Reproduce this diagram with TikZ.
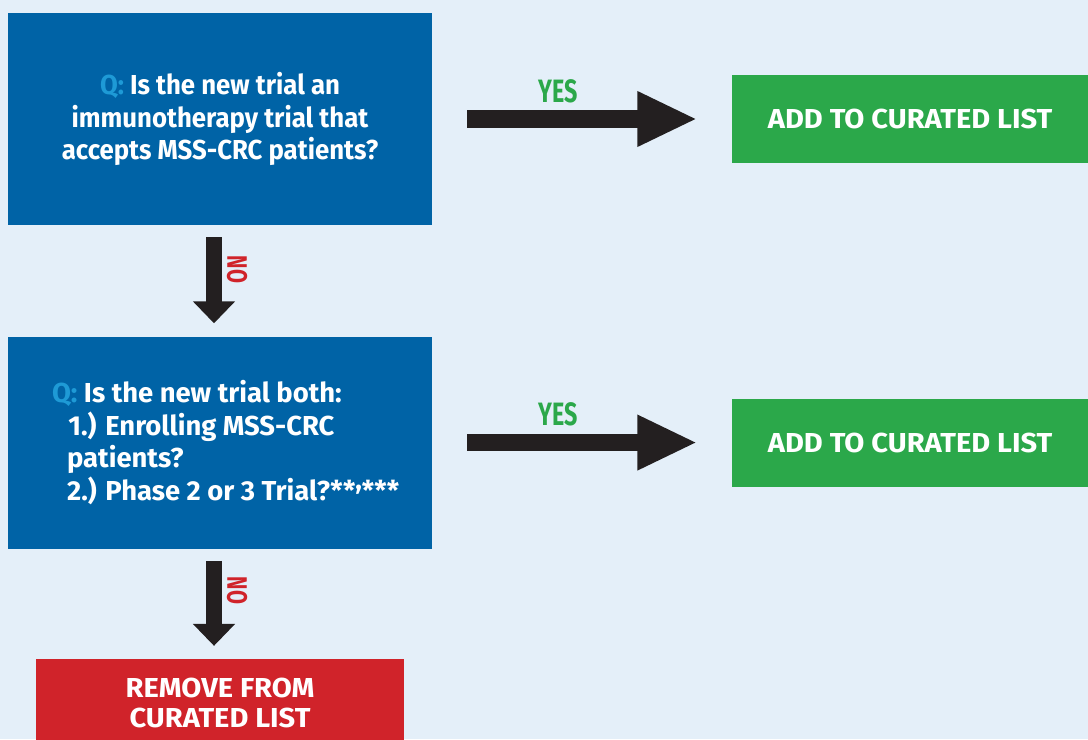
\documentclass[tikz,border=0pt]{standalone}
\usepackage{fontspec}
\setmainfont{Fira Sans}
\newfontfamily\boxfont{Fira Sans}[FakeStretch=0.94]
\newfontfamily\listfont{Fira Sans}[FakeStretch=1.0]
\newfontfamily\capsfont{Fira Sans}[FakeStretch=1.06]
\newfontfamily\tagfont{Fira Sans}[FakeStretch=0.72]
\usetikzlibrary{arrows.meta,positioning}
\definecolor{bgblue}{HTML}{E4EFF9}
\definecolor{qblue}{HTML}{0063A6}
\definecolor{qcyan}{HTML}{1E9AD6}
\definecolor{addgreen}{HTML}{2BA84A}
\definecolor{rmred}{HTML}{D0232A}
\definecolor{arrowblack}{HTML}{231F20}
\tikzset{
  question/.style={fill=qblue, text=white, inner sep=0pt,
    minimum width=10.6cm, minimum height=5.3cm,
    font=\boxfont\bfseries\fontsize{19.5}{23.4}\selectfont},
  addbox/.style={fill=addgreen, text=white, inner sep=0pt,
    minimum width=8.925cm, minimum height=2.2cm,
    font=\capsfont\bfseries\fontsize{19.5}{23.4}\selectfont},
  removebox/.style={fill=rmred, text=white, inner sep=0pt, align=center,
    minimum width=9.2cm, minimum height=2.2cm,
    font=\capsfont\bfseries\fontsize{19.5}{21.3}\selectfont},
  yesarrow/.style={draw=arrowblack, line width=0.43cm,
    -{Triangle[length=1.5cm,width=1.28cm]},
    shorten <=0.875cm, shorten >=0.85cm},
  noarrow/.style={draw=arrowblack, line width=0.4cm,
    -{Triangle[length=0.55cm,width=1.025cm]},
    shorten <=0.3cm, shorten >=0.325cm},
  yeslabel/.style={text=addgreen, font=\tagfont\bfseries\fontsize{23}{23}\selectfont},
  nolabel/.style={text=rmred, rotate=-90, font=\tagfont\bfseries\fontsize{20}{20}\selectfont}
}
\newcommand{\starmarks}{**\raisebox{0.4em}{,}***}
\begin{document}
\begin{tikzpicture}
\fill[bgblue] (0,0) rectangle (27.2,-18.475);
\clip (0,0) rectangle (27.2,-18.475);
% question boxes
\node[question, align=center] (q1) at (5.5,-2.975)
  {{\color{qcyan}Q:} Is the new trial an\\immunotherapy trial that\\accepts MSS-CRC patients?};
\node[question, align=flush left, text width=8.4cm, font=\listfont\bfseries\fontsize{19.5}{23.4}\selectfont,
  below=2.775cm of q1] (q2)
  {{\color{qcyan}Q:} Is the new trial both:\\
   \hspace*{0.6em}1.) Enrolling MSS-CRC\\
   \hspace*{0.55em}patients?\\
   \mbox{\hspace*{0.55em}2.) Phase 2 or 3 Trial?\starmarks}};
% outcomes
\node[addbox, right=7.475cm of q1] (add1) {ADD TO CURATED LIST};
\node[addbox, right=7.475cm of q2] (add2) {ADD TO CURATED LIST};
\node[removebox, below=2.75cm of q2] (remove) {REMOVE FROM\\CURATED LIST};
% arrows
\draw[yesarrow] (q1.east) -- node[yeslabel, pos=0.42, yshift=0.7cm] {YES} (add1.west);
\draw[yesarrow] (q2.east) -- node[yeslabel, pos=0.42, yshift=0.7cm] {YES} (add2.west);
\draw[noarrow] ([xshift=-0.15cm]q1.south) -- node[nolabel, pos=0.4, yshift=0.575cm] {NO} ([xshift=-0.15cm]q2.north);
\draw[noarrow] ([xshift=-0.15cm]q2.south) -- node[nolabel, pos=0.38, yshift=0.575cm] {NO} ([xshift=-0.15cm]remove.north);
\end{tikzpicture}
\end{document}
